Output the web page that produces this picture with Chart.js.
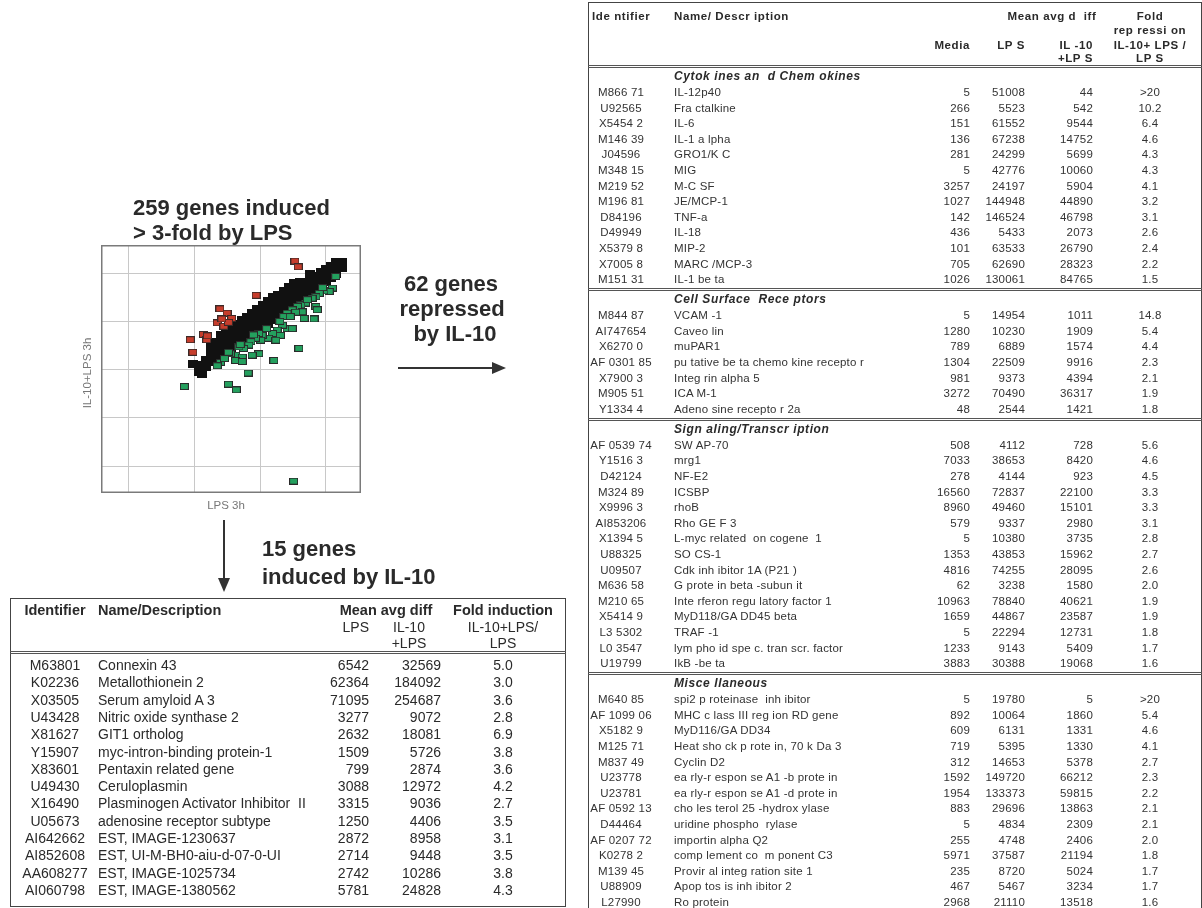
<!DOCTYPE html>
<html>
<head>
<meta charset="utf-8">
<script src="https://cdn.jsdelivr.net/npm/chart.js@4.4.1/dist/chart.umd.min.js"></script>
<style>
body { margin: 0; background: #fff; font-family: 'Liberation Sans', Arial, sans-serif; color: #222; }
#page { position: relative; width: 1202px; height: 908px; overflow: hidden; }
.t { position: absolute; white-space: pre; }
.big { font-weight: bold; font-size: 22px; color: #2a2a2a; }
.lt { font-size: 14px; color: #2a2a2a; }
.lth { font-size: 14.5px; font-weight: bold; color: #2a2a2a; }
.rt { font-size: 11.5px; color: #333; letter-spacing: 0.2px; }
.rth { font-size: 11.5px; font-weight: bold; color: #2a2a2a; letter-spacing: 0.6px; }
.rsec { font-size: 12px; font-weight: bold; font-style: italic; color: #2a2a2a; letter-spacing: 0.6px; }
.ax { font-size: 11.5px; color: #777; }
.box { position: absolute; border: 1.5px solid #444; box-sizing: border-box; }
.sep { position: absolute; border-top: 3px double #555; height: 0; }
#plot { position: absolute; left: 101px; top: 245px; width: 260px; height: 248px; }
svg { position: absolute; left: 0; top: 0; }
</style>
</head>
<body>
<div id="page">
  <div id="plot"><canvas id="scatter"></canvas></div>
  <svg width="1202" height="908">
    <line x1="224" y1="520" x2="224" y2="580" stroke="#333" stroke-width="2"/>
    <polygon points="218,578 230,578 224,592" fill="#333"/>
    <line x1="398" y1="368" x2="494" y2="368" stroke="#333" stroke-width="2"/>
    <polygon points="492,362 492,374 506,368" fill="#333"/>
  </svg>
</div>
<script>
// scatter values, in grid units (decades)
const blackGenes = [
  [1.98, 3.12], [2.08, 2.95], [2.08, 3.10], [2.12, 2.92], [2.18, 3.05], [2.18, 3.20],
  [2.25, 3.15], [2.25, 3.30], [2.25, 3.45], [2.25, 3.58],
  [2.32, 3.22], [2.32, 3.38], [2.32, 3.55],
  [2.40, 3.28], [2.40, 3.45], [2.40, 3.62], [2.40, 3.72],
  [2.48, 3.35], [2.48, 3.52], [2.48, 3.68], [2.48, 3.80],
  [2.56, 3.42], [2.56, 3.58], [2.56, 3.75], [2.56, 3.88],
  [2.64, 3.50], [2.64, 3.66], [2.64, 3.82], [2.64, 3.95],
  [2.72, 3.58], [2.72, 3.74], [2.72, 3.90], [2.72, 4.02],
  [2.80, 3.66], [2.80, 3.82], [2.80, 3.98], [2.80, 4.10],
  [2.88, 3.72], [2.88, 3.88], [2.88, 4.05], [2.88, 4.18],
  [2.96, 3.80], [2.96, 3.96], [2.96, 4.12], [2.96, 4.26],
  [3.04, 3.88], [3.04, 4.04], [3.04, 4.20], [3.04, 4.34],
  [3.12, 3.95], [3.12, 4.12], [3.12, 4.28], [3.12, 4.42],
  [3.20, 4.02], [3.20, 4.18], [3.20, 4.35], [3.20, 4.50],
  [3.28, 4.10], [3.28, 4.26], [3.28, 4.42], [3.28, 4.55],
  [3.36, 4.18], [3.36, 4.34], [3.36, 4.50], [3.36, 4.62],
  [3.44, 4.25], [3.44, 4.42], [3.44, 4.58], [3.44, 4.72],
  [3.52, 4.34], [3.52, 4.50], [3.52, 4.66], [3.52, 4.80],
  [3.60, 4.42], [3.60, 4.58], [3.60, 4.72], [3.60, 4.82],
  [3.68, 4.50], [3.68, 4.65], [3.68, 4.80],
  [3.76, 4.58], [3.76, 4.72], [3.76, 4.88], [3.76, 4.98],
  [3.84, 4.66], [3.84, 4.80], [3.84, 4.95],
  [3.92, 4.74], [3.92, 4.88], [3.92, 5.02],
  [4.00, 4.82], [4.00, 4.95], [4.00, 5.08],
  [4.08, 4.90], [4.08, 5.02], [4.08, 5.15],
  [4.16, 4.98], [4.16, 5.10], [4.16, 5.22],
  [4.24, 5.10], [4.24, 5.22]
];
const greenGenes = [
  [4.15, 4.93], [4.10, 4.69], [4.05, 4.62], [3.97, 4.63], [3.90, 4.58], [3.85, 4.51],
  [3.79, 4.48], [3.69, 4.38], [3.62, 4.34], [3.57, 4.31], [3.49, 4.24], [3.41, 4.17],
  [3.36, 4.10], [3.85, 4.31], [3.87, 4.24], [3.82, 4.05], [3.67, 4.06], [3.64, 4.20],
  [3.54, 4.19], [3.46, 4.10], [3.41, 3.85], [3.49, 3.85], [3.34, 3.92], [3.26, 3.82],
  [3.31, 3.71], [3.19, 3.75], [3.13, 3.65], [3.03, 3.71], [2.98, 3.75], [3.01, 3.61],
  [2.93, 3.65], [2.86, 3.58], [2.83, 3.51], [2.75, 3.44], [2.68, 3.47], [2.63, 3.30],
  [2.55, 3.33], [3.24, 3.61], [3.59, 3.44], [3.21, 3.19], [2.98, 3.33], [2.88, 3.30],
  [2.73, 3.26], [2.63, 3.19], [2.40, 3.15], [2.35, 3.08], [2.73, 3.17], [2.82, 2.93],
  [1.85, 2.65], [2.52, 2.70], [2.64, 2.58], [3.51, 0.69], [2.52, 3.36], [2.46, 3.23],
  [3.72, 4.45], [3.95, 4.70], [3.30, 4.00], [3.10, 3.85], [2.90, 3.72], [2.70, 3.52]
];
const redGenes = [
  [3.53, 5.25], [3.58, 5.13], [2.94, 4.54], [2.39, 4.26], [2.50, 4.17], [2.57, 4.06],
  [2.35, 3.97], [2.45, 3.90], [2.52, 3.98], [2.14, 3.73], [2.19, 3.62], [1.94, 3.62],
  [1.98, 3.36], [2.42, 4.05], [2.20, 3.70]
];

// table values
const inducedHeads = ['Identifier', 'Name/Description', 'Mean avg diff', 'Fold induction'];
const inducedIds = ['M63801', 'K02236', 'X03505', 'U43428', 'X81627', 'Y15907', 'X83601',
  'U49430', 'X16490', 'U05673', 'AI642662', 'AI852608', 'AA608277', 'AI060798'];
const inducedNames = ['Connexin 43', 'Metallothionein 2', 'Serum amyloid A 3', 'Nitric oxide synthase 2',
  'GIT1 ortholog', 'myc-intron-binding protein-1', 'Pentaxin related gene', 'Ceruloplasmin',
  'Plasminogen Activator Inhibitor  II', 'adenosine receptor subtype', 'EST, IMAGE-1230637',
  'EST, UI-M-BH0-aiu-d-07-0-UI', 'EST, IMAGE-1025734', 'EST, IMAGE-1380562'];
const inducedLps = [6542, 62364, 71095, 3277, 2632, 1509, 799, 3088, 3315, 1250, 2872, 2714, 2742, 5781];
const inducedIl10 = [32569, 184092, 254687, 9072, 18081, 5726, 2874, 12972, 9036, 4406, 8958, 9448, 10286, 24828];
const inducedFold = ['5.0', '3.0', '3.6', '2.8', '6.9', '3.8', '3.6', '4.2', '2.7', '3.5', '3.1', '3.5', '3.8', '4.3'];

const sections = ['Cytok ines an  d Chem okines', 'Cell Surface  Rece ptors', 'Sign aling/Transcr iption', 'Misce llaneous'];
const repressedRows = [
  [['M866 71', 'IL-12p40', 5, 51008, 44, '>20'],
   ['U92565', 'Fra ctalkine', 266, 5523, 542, '10.2'],
   ['X5454 2', 'IL-6', 151, 61552, 9544, '6.4'],
   ['M146 39', 'IL-1 a lpha', 136, 67238, 14752, '4.6'],
   ['J04596', 'GRO1/K C', 281, 24299, 5699, '4.3'],
   ['M348 15', 'MIG', 5, 42776, 10060, '4.3'],
   ['M219 52', 'M-C SF', 3257, 24197, 5904, '4.1'],
   ['M196 81', 'JE/MCP-1', 1027, 144948, 44890, '3.2'],
   ['D84196', 'TNF-a', 142, 146524, 46798, '3.1'],
   ['D49949', 'IL-18', 436, 5433, 2073, '2.6'],
   ['X5379 8', 'MIP-2', 101, 63533, 26790, '2.4'],
   ['X7005 8', 'MARC /MCP-3', 705, 62690, 28323, '2.2'],
   ['M151 31', 'IL-1 be ta', 1026, 130061, 84765, '1.5']],
  [['M844 87', 'VCAM -1', 5, 14954, 1011, '14.8'],
   ['AI747654', 'Caveo lin', 1280, 10230, 1909, '5.4'],
   ['X6270 0', 'muPAR1', 789, 6889, 1574, '4.4'],
   ['AF 0301 85', 'pu tative be ta chemo kine recepto r', 1304, 22509, 9916, '2.3'],
   ['X7900 3', 'Integ rin alpha 5', 981, 9373, 4394, '2.1'],
   ['M905 51', 'ICA M-1', 3272, 70490, 36317, '1.9'],
   ['Y1334 4', 'Adeno sine recepto r 2a', 48, 2544, 1421, '1.8']],
  [['AF 0539 74', 'SW AP-70', 508, 4112, 728, '5.6'],
   ['Y1516 3', 'mrg1', 7033, 38653, 8420, '4.6'],
   ['D42124', 'NF-E2', 278, 4144, 923, '4.5'],
   ['M324 89', 'ICSBP', 16560, 72837, 22100, '3.3'],
   ['X9996 3', 'rhoB', 8960, 49460, 15101, '3.3'],
   ['AI853206', 'Rho GE F 3', 579, 9337, 2980, '3.1'],
   ['X1394 5', 'L-myc related  on cogene  1', 5, 10380, 3735, '2.8'],
   ['U88325', 'SO CS-1', 1353, 43853, 15962, '2.7'],
   ['U09507', 'Cdk inh ibitor 1A (P21 )', 4816, 74255, 28095, '2.6'],
   ['M636 58', 'G prote in beta -subun it', 62, 3238, 1580, '2.0'],
   ['M210 65', 'Inte rferon regu latory factor 1', 10963, 78840, 40621, '1.9'],
   ['X5414 9', 'MyD118/GA DD45 beta', 1659, 44867, 23587, '1.9'],
   ['L3 5302', 'TRAF -1', 5, 22294, 12731, '1.8'],
   ['L0 3547', 'lym pho id spe c. tran scr. factor', 1233, 9143, 5409, '1.7'],
   ['U19799', 'IkB -be ta', 3883, 30388, 19068, '1.6']],
  [['M640 85', 'spi2 p roteinase  inh ibitor', 5, 19780, 5, '>20'],
   ['AF 1099 06', 'MHC c lass III reg ion RD gene', 892, 10064, 1860, '5.4'],
   ['X5182 9', 'MyD116/GA DD34', 609, 6131, 1331, '4.6'],
   ['M125 71', 'Heat sho ck p rote in, 70 k Da 3', 719, 5395, 1330, '4.1'],
   ['M837 49', 'Cyclin D2', 312, 14653, 5378, '2.7'],
   ['U23778', 'ea rly-r espon se A1 -b prote in', 1592, 149720, 66212, '2.3'],
   ['U23781', 'ea rly-r espon se A1 -d prote in', 1954, 133373, 59815, '2.2'],
   ['AF 0592 13', 'cho les terol 25 -hydrox ylase', 883, 29696, 13863, '2.1'],
   ['D44464', 'uridine phospho  rylase', 5, 4834, 2309, '2.1'],
   ['AF 0207 72', 'importin alpha Q2', 255, 4748, 2406, '2.0'],
   ['K0278 2', 'comp lement co  m ponent C3', 5971, 37587, 21194, '1.8'],
   ['M139 45', 'Provir al integ ration site 1', 235, 8720, 5024, '1.7'],
   ['U88909', 'Apop tos is inh ibitor 2', 467, 5467, 3234, '1.7'],
   ['L27990', 'Ro protein', 2968, 21110, 13518, '1.6']]
];

const page = document.getElementById('page');

function put(text, x, y, align, cls) {
    const d = document.createElement('div');
    d.className = 't ' + cls;
    d.textContent = text;
    d.style.lineHeight = '20px';
    d.style.height = '20px';
    d.style.top = (y - 10) + 'px';
    if (align === 'left') {
        d.style.left = x + 'px';
    } else if (align === 'right') {
        d.style.right = (1202 - x) + 'px';
    } else {
        d.style.left = (x - 200) + 'px';
        d.style.width = '400px';
        d.style.textAlign = 'center';
    }
    page.appendChild(d);
}

function box(x, y, w, h) {
    const d = document.createElement('div');
    d.className = 'box';
    Object.assign(d.style, { left: x + 'px', top: y + 'px', width: w + 'px', height: h + 'px' });
    page.appendChild(d);
}

function sep(x, y, w) {
    const d = document.createElement('div');
    d.className = 'sep';
    Object.assign(d.style, { left: x + 'px', top: y + 'px', width: w + 'px' });
    page.appendChild(d);
}

// headings around the plot
put('259 genes induced', 133, 208, 'left', 'big');
put('> 3-fold by LPS', 133, 233, 'left', 'big');
put('62 genes', 451, 284, 'center', 'big');
put('repressed', 452, 309, 'center', 'big');
put('by IL-10', 455, 334, 'center', 'big');
put('15 genes', 262, 549, 'left', 'big');
put('induced by IL-10', 262, 577, 'left', 'big');
put('LPS 3h', 226, 505, 'center', 'ax');
const yl = document.createElement('div');
yl.className = 't ax';
yl.textContent = 'IL-10+LPS 3h';
Object.assign(yl.style, { left: '37px', top: '363px', width: '100px', textAlign: 'center', lineHeight: '20px', transform: 'rotate(-90deg)' });
page.appendChild(yl);

// left table: induced by IL-10
box(10, 598, 556, 309);
put(inducedHeads[0], 55, 610, 'center', 'lth');
put(inducedHeads[1], 98, 610, 'left', 'lth');
put(inducedHeads[2], 386, 610, 'center', 'lth');
put(inducedHeads[3], 503, 610, 'center', 'lth');
put('LPS', 369, 627, 'right', 'lt');
put('IL-10', 409, 627, 'center', 'lt');
put('+LPS', 409, 643, 'center', 'lt');
put('IL-10+LPS/', 503, 627, 'center', 'lt');
put('LPS', 503, 643, 'center', 'lt');
sep(10, 651, 556);
inducedIds.forEach((id, i) => {
    const y = 665 + i * 17.3;
    put(id, 55, y, 'center', 'lt');
    put(inducedNames[i], 98, y, 'left', 'lt');
    put(String(inducedLps[i]), 369, y, 'right', 'lt');
    put(String(inducedIl10[i]), 441, y, 'right', 'lt');
    put(inducedFold[i], 503, y, 'center', 'lt');
});

// right table: repressed by IL-10
box(588, 2, 614, 910);
put('Ide ntifier', 592, 16, 'left', 'rth');
put('Name/ Descr iption', 674, 16, 'left', 'rth');
put('Mean avg d  iff', 1052, 16, 'center', 'rth');
put('Fold', 1150, 16, 'center', 'rth');
put('rep ressi on', 1150, 30, 'center', 'rth');
put('Media', 970, 45, 'right', 'rth');
put('LP S', 1025, 45, 'right', 'rth');
put('IL -10', 1093, 45, 'right', 'rth');
put('IL-10+ LPS /', 1150, 45, 'center', 'rth');
put('+LP S', 1093, 58, 'right', 'rth');
put('LP S', 1150, 58, 'center', 'rth');
sep(588, 65, 614);

let rowY = 92;
repressedRows.forEach((rows, s) => {
    if (s > 0) {
        sep(588, rowY - 27, 614);
    }
    put(sections[s], 674, rowY - 16, 'left', 'rsec');
    rows.forEach(r => {
        put(r[0], 621, rowY, 'center', 'rt');
        put(r[1], 674, rowY, 'left', 'rt');
        put(String(r[2]), 970, rowY, 'right', 'rt');
        put(String(r[3]), 1025, rowY, 'right', 'rt');
        put(String(r[4]), 1093, rowY, 'right', 'rt');
        put(r[5], 1150, rowY, 'center', 'rt');
        rowY += 15.6;
    });
    rowY += 36 - 15.6;
});

// scatter plot
function makeMarker(fill, edge, w, h) {
    const c = document.createElement('canvas');
    c.width = w;
    c.height = h;
    const g = c.getContext('2d');
    g.fillStyle = edge;
    g.fillRect(0, 0, w, h);
    g.fillStyle = fill;
    g.fillRect(1, 1, w - 2, h - 2);
    return c;
}

const framePlugin = {
    id: 'frame',
    afterDraw(chart) {
        const { ctx, chartArea: a } = chart;
        ctx.save();
        ctx.strokeStyle = '#7a7a7a';
        ctx.lineWidth = 1.5;
        ctx.strokeRect(a.left + 0.75, a.top + 0.75, a.width - 1.5, a.height - 1.5);
        ctx.restore();
    }
};

const toPoints = arr => arr.map(p => ({ x: p[0], y: p[1] }));

new Chart(document.getElementById('scatter'), {
    type: 'scatter',
    data: {
        datasets: [
            { label: 'Induced by IL-10', data: toPoints(redGenes), pointStyle: makeMarker('#c63d2c', '#3a2a28', 9, 7), order: 0 },
            { label: 'Repressed by IL-10', data: toPoints(greenGenes), pointStyle: makeMarker('#24a05e', '#2a2a2a', 9, 7), order: 1 },
            { label: 'Induced by LPS', data: toPoints(blackGenes), pointStyle: makeMarker('#111', '#111', 10, 8), order: 2 }
        ]
    },
    options: {
        responsive: true,
        maintainAspectRatio: false,
        animation: false,
        layout: { padding: 0, autoPadding: false },
        plugins: { legend: { display: false }, tooltip: { enabled: false } },
        scales: {
            x: {
                type: 'linear', min: 0.584, max: 4.534,
                ticks: { display: false, stepSize: 1, includeBounds: false },
                grid: { color: '#c8c8c8', lineWidth: 1, drawTicks: false },
                border: { display: false }
            },
            y: {
                type: 'linear', min: 0.445, max: 5.582,
                ticks: { display: false, stepSize: 1, includeBounds: false },
                grid: { color: '#c8c8c8', lineWidth: 1, drawTicks: false },
                border: { display: false }
            }
        }
    },
    plugins: [framePlugin]
});
</script>
</body>
</html>
